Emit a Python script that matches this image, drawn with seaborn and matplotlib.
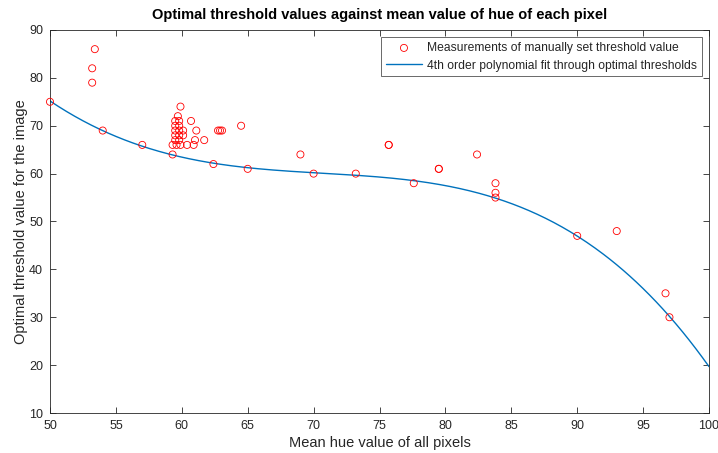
import numpy as np
import pandas as pd
import matplotlib
matplotlib.use("Agg")
import matplotlib.pyplot as plt
import seaborn as sns

# Measurements (mean hue, threshold)
hue_vals = [50.0, 53.4, 53.2, 53.2, 54.0, 57.0,
            59.9, 59.7, 59.5, 59.8, 60.7, 59.5, 59.8, 59.5, 59.8, 60.1, 61.1,
            59.5, 59.8, 60.1, 59.5, 59.8, 61.0, 61.7, 59.3, 59.6, 59.9, 60.4,
            60.9, 59.3, 62.4, 62.75, 62.9, 63.05, 64.5, 65.0,
            69.0, 70.0, 73.2, 75.7, 75.7, 77.6, 79.5, 79.5, 82.4, 83.8, 83.8, 83.8,
            90.0, 93.0, 96.7, 97.0]
threshold_vals = [75, 86, 82, 79, 69, 66,
                  74, 72, 71, 71, 71, 70, 70, 69, 69, 69, 69,
                  68, 68, 68, 67, 67, 67, 67, 66, 66, 66, 66,
                  66, 64, 62, 69, 69, 69, 70, 61,
                  64, 60, 60, 66, 66, 58, 61, 61, 64, 58, 56, 55,
                  47, 48, 35, 30]

# Points
fit_x = [50, 54, 57, 59.3, 62.4, 65, 70, 73.2, 77.6, 83.8, 90, 97, 100]
fit_y = [75.1, 69.1, 65.7, 64.1, 62.0, 61.1, 60.1, 60.0, 58.3, 55.0, 47.0, 30.0, 19.8]

coef = np.polyfit(fit_x, fit_y, 4)
xs = np.linspace(50, 100, 400)
curve = pd.DataFrame({"x": xs, "y": np.polyval(coef, xs)})
meas = pd.DataFrame({"x": hue_vals, "y": threshold_vals})

sns.set_style("white")
plt.rcParams["font.family"] = ["Liberation Sans", "DejaVu Sans"]

fig = plt.figure(figsize=(7.18, 4.53), dpi=100)
ax = fig.add_axes([50/718, 1-413/453, (709-50)/718, (413-30)/453])

sns.scatterplot(data=meas, x="x", y="y", ax=ax, marker="o", s=26,
                facecolors="none", edgecolor="#FF0000", linewidth=0.6,
                label="Measurements of manually set threshold value",
                clip_on=False, zorder=3)
sns.lineplot(data=curve, x="x", y="y", ax=ax, color="#0072BD", linewidth=1.0,
             label="4th order polynomial fit through optimal thresholds")

ax.set_xlim(50, 100)
ax.set_ylim(10, 90)
ax.set_xticks(np.arange(50, 101, 5))
ax.set_yticks(np.arange(10, 91, 10))
ax.tick_params(direction="in", length=4, width=0.6, colors="#262626",
               labelsize=9, top=True, right=True, bottom=True, left=True, pad=5)
for sp in ax.spines.values():
    sp.set_color("#262626")
    sp.set_linewidth(0.6)

ax.set_xlabel("Mean hue value of all pixels", fontsize=10.5, color="#262626", labelpad=3)
ax.set_ylabel("Optimal threshold value for the image", fontsize=10.5, color="#262626", labelpad=1)
ax.set_title("Optimal threshold values against mean value of hue of each pixel",
             fontsize=10.5, fontweight="bold", color="black", pad=8)

leg = ax.legend(loc="upper right", fontsize=8.7, frameon=True, fancybox=False,
                edgecolor="#262626", borderaxespad=0.6, handlelength=3.0,
                borderpad=0.4, labelspacing=0.45, handletextpad=0.4)
leg.get_frame().set_linewidth(0.6)

fig.savefig("out.png", dpi=100)
